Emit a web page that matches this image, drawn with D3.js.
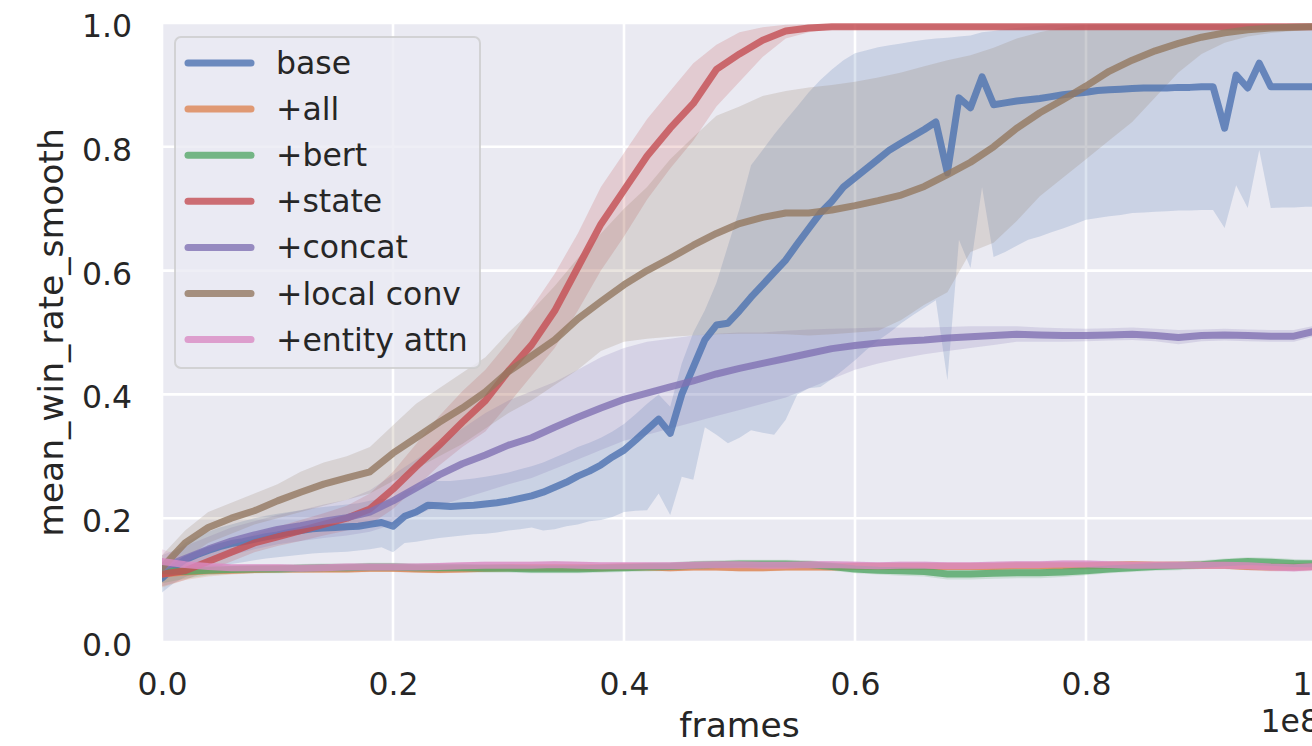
<!DOCTYPE html>
<html><head><meta charset="utf-8">
<script src="https://cdn.jsdelivr.net/npm/d3@7"></script>
<style>
body{margin:0;background:#fff}
svg{display:block}
text{font-family:"DejaVu Sans",sans-serif;fill:#262626}
</style>
</head><body><svg id="c" width="1312" height="746"></svg>
<script>
// x values in units of 1e8 frames
const framesCoarse = [0,0.02,0.04,0.06,0.08,0.1,0.12,0.14,0.16,0.18,0.2,0.22,0.24,0.26,0.28,0.3,0.32,0.34,0.36,0.38,0.4,0.42,0.44,0.46,0.48,0.5,0.52,0.54,0.56,0.58,0.6,0.62,0.64,0.66,0.68,0.7,0.72,0.74,0.76,0.78,0.8,0.82,0.84,0.86,0.88,0.9,0.92,0.94,0.96,0.98,1.0];
const framesFine = [0,0.01,0.02,0.03,0.04,0.05,0.06,0.07,0.08,0.09,0.1,0.11,0.12,0.13,0.14,0.15,0.16,0.17,0.18,0.19,0.2,0.21,0.22,0.23,0.24,0.25,0.26,0.27,0.28,0.29,0.3,0.31,0.32,0.33,0.34,0.35,0.36,0.37,0.38,0.39,0.4,0.41,0.42,0.43,0.44,0.45,0.46,0.47,0.48,0.49,0.5,0.51,0.52,0.53,0.54,0.55,0.56,0.57,0.58,0.59,0.6,0.61,0.62,0.63,0.64,0.65,0.66,0.67,0.68,0.69,0.7,0.71,0.72,0.73,0.74,0.75,0.76,0.77,0.78,0.79,0.8,0.81,0.82,0.83,0.84,0.85,0.86,0.87,0.88,0.89,0.9,0.91,0.92,0.93,0.94,0.95,0.96,0.97,0.98,0.99,1.0];

const seriesNames = ["base","+all","+bert","+state","+concat","+local conv","+entity attn"];
const seriesColors = ["#4C72B0","#DD8452","#55A868","#C44E52","#8172B3","#937860","#DA8BC3"];
const xTicks = [0,0.2,0.4,0.6,0.8,1.0];
const yTicks = [0,0.2,0.4,0.6,0.8,1.0];
const xLabel = "frames";
const yLabel = "mean_win_rate_smooth";
const xOffsetLabel = "1e8";

// base (fine grid)
const baseMean = [
.103,.12,.133,.141,.148,.154,.159,.162,.166,.170,
.173,.177,.180,.183,.184,.185,.186,.187,.19,.193,
.187,.203,.21,.221,.22,.219,.22,.221,.223,.225,
.228,.232,.236,.242,.25,.258,.268,.276,.286,.299,
.31,.326,.343,.36,.337,.40,.444,.488,.512,.515,
.535,.557,.577,.597,.617,.643,.668,.693,.712,.735,
.75,.765,.78,.795,.806,.817,.828,.84,.758,.879,
.863,.913,.868,.871,.874,.876,.878,.881,.884,.886,
.888,.891,.892,.893,.894,.895,.895,.895,.896,.896,
.897,.897,.83,.916,.895,.935,.897,.897,.897,.897,
.897];
const baseLo = [
.08,.095,.105,.112,.118,.122,.126,.129,.132,.135,
.137,.139,.141,.143,.144,.145,.146,.148,.15,.153,
.145,.16,.162,.165,.168,.17,.172,.174,.175,.177,
.18,.182,.185,.18,.182,.187,.19,.195,.197,.202,
.21,.212,.213,.24,.205,.267,.262,.347,.335,.321,
.33,.342,.338,.335,.359,.40,.41,.412,.425,.44,
.455,.472,.487,.50,.515,.528,.54,.552,.423,.65,
.604,.735,.622,.63,.64,.65,.655,.662,.668,.675,
.682,.685,.688,.69,.693,.694,.695,.696,.697,.697,
.698,.698,.669,.738,.701,.795,.701,.702,.702,.703,
.703];
const baseHi = [
.125,.145,.16,.17,.178,.185,.19,.195,.2,.204,
.207,.21,.213,.216,.218,.22,.222,.224,.228,.232,
.228,.243,.25,.26,.26,.26,.262,.264,.267,.27,
.274,.279,.284,.29,.298,.306,.315,.322,.33,.34,
.352,.368,.385,.40,.38,.45,.50,.536,.58,.64,
.70,.77,.795,.82,.843,.865,.888,.908,.925,.94,
.951,.956,.961,.964,.967,.97,.973,.975,.976,.978,
.98,.985,.987,.99,.992,.994,.995,.997,.997,.997,
.997,.997,.997,.997,.997,.997,.997,.997,.997,.997,
.997,.997,.997,.997,.997,.997,.997,.997,.997,.997,
.997];

// +all
const allMean = [.11,.113,.115,.116,.117,.118,.118,.118,.118,.119,.119,.118,.117,.118,.119,.12,.12,.12,.12,.12,.121,.121,.12,.121,.121,.12,.12,.121,.121,.121,.122,.122,.122,.122,.122,.122,.122,.123,.123,.123,.123,.124,.125,.124,.124,.124,.124,.122,.121,.121,.122];
const allLo = [.088,.1,.106,.109,.111,.112,.112,.112,.112,.113,.113,.112,.111,.112,.113,.114,.114,.114,.114,.114,.115,.115,.114,.115,.115,.114,.114,.115,.115,.115,.116,.116,.116,.116,.116,.116,.116,.117,.117,.117,.117,.118,.119,.118,.118,.118,.118,.116,.115,.115,.116];
const allHi = [.135,.128,.124,.123,.123,.124,.124,.124,.124,.125,.125,.124,.123,.124,.125,.126,.126,.126,.126,.126,.127,.127,.126,.127,.127,.126,.126,.127,.127,.127,.128,.128,.128,.128,.128,.128,.128,.129,.129,.129,.129,.13,.131,.13,.13,.13,.13,.128,.127,.127,.128];

// +bert
const bertMean = [.115,.114,.116,.117,.118,.118,.119,.12,.12,.121,.121,.12,.12,.12,.119,.119,.118,.118,.118,.119,.12,.121,.122,.124,.125,.126,.126,.126,.125,.122,.118,.116,.115,.114,.11,.11,.111,.112,.112,.113,.115,.118,.12,.122,.123,.125,.128,.13,.129,.127,.126];
const bertLo = [.095,.102,.108,.11,.111,.111,.112,.113,.113,.114,.114,.113,.113,.113,.112,.112,.111,.111,.111,.112,.113,.114,.115,.117,.118,.119,.119,.119,.118,.115,.111,.109,.107,.106,.101,.101,.102,.103,.103,.105,.108,.111,.113,.115,.116,.118,.121,.123,.122,.12,.119];
const bertHi = [.135,.126,.124,.124,.125,.125,.126,.127,.127,.128,.128,.127,.127,.127,.126,.126,.125,.125,.125,.126,.127,.128,.129,.131,.132,.133,.133,.133,.132,.129,.125,.123,.122,.122,.118,.118,.119,.12,.12,.121,.122,.125,.127,.129,.13,.132,.135,.137,.136,.134,.133];

// +state
const stateMean = [.11,.115,.13,.145,.16,.17,.18,.19,.20,.215,.247,.283,.318,.355,.39,.438,.48,.535,.605,.675,.73,.785,.83,.87,.925,.95,.972,.987,.992,.994,.994,.994,.994,.994,.994,.994,.994,.994,.994,.994,.994,.994,.994,.994,.994,.994,.994,.994,.994,.994,.994];
const stateLo = [.09,.10,.115,.13,.145,.155,.163,.172,.18,.19,.215,.25,.285,.315,.34,.385,.43,.475,.535,.60,.655,.715,.765,.81,.865,.905,.945,.975,.985,.99,.99,.99,.99,.99,.99,.99,.99,.99,.99,.99,.99,.99,.99,.99,.99,.99,.99,.99,.99,.99,.99];
const stateHi = [.13,.13,.145,.16,.175,.186,.197,.208,.22,.24,.275,.32,.365,.405,.44,.485,.54,.595,.66,.735,.79,.845,.89,.935,.965,.985,.993,.997,.998,.998,.998,.998,.998,.998,.998,.998,.998,.998,.998,.998,.998,.998,.998,.998,.998,.998,.998,.998,.998,.998,.998];

// +concat
const concatMean = [.12,.135,.15,.163,.173,.182,.188,.195,.201,.21,.228,.249,.27,.288,.302,.318,.33,.347,.363,.378,.392,.402,.412,.422,.433,.442,.45,.458,.466,.474,.479,.483,.486,.488,.491,.493,.495,.497,.496,.495,.495,.496,.497,.495,.492,.495,.496,.495,.494,.494,.503];
const concatLo = [.10,.115,.13,.14,.15,.158,.163,.168,.172,.178,.19,.205,.22,.232,.243,.255,.265,.28,.295,.31,.325,.335,.345,.355,.365,.375,.385,.395,.41,.425,.44,.45,.458,.465,.47,.475,.48,.485,.485,.485,.486,.487,.488,.486,.481,.486,.487,.486,.485,.485,.495];
const concatHi = [.14,.155,.17,.185,.195,.205,.213,.222,.23,.245,.27,.295,.32,.345,.37,.39,.405,.42,.44,.46,.475,.485,.49,.495,.498,.50,.50,.503,.505,.506,.507,.508,.508,.508,.509,.51,.51,.51,.508,.507,.506,.507,.508,.506,.504,.505,.506,.505,.504,.504,.512];

// +local conv
const localConvMean = [.12,.16,.185,.20,.212,.228,.242,.255,.265,.275,.305,.33,.355,.378,.404,.437,.462,.488,.522,.55,.577,.60,.62,.641,.66,.676,.686,.693,.693,.698,.705,.713,.722,.736,.755,.775,.80,.83,.855,.876,.898,.922,.94,.955,.967,.977,.984,.989,.992,.993,.994];
const localConvLo = [.10,.135,.16,.175,.19,.20,.21,.22,.23,.24,.26,.28,.30,.32,.345,.37,.39,.415,.44,.47,.485,.49,.493,.495,.497,.498,.498,.497,.495,.497,.50,.503,.52,.545,.565,.63,.645,.68,.72,.75,.78,.81,.84,.88,.92,.95,.968,.978,.984,.987,.99];
const localConvHi = [.14,.18,.21,.225,.24,.255,.275,.29,.30,.315,.35,.385,.41,.435,.46,.50,.535,.575,.62,.66,.70,.735,.78,.816,.85,.865,.882,.89,.896,.90,.905,.912,.92,.93,.94,.948,.96,.975,.985,.993,.997,.998,.998,.998,.998,.998,.998,.998,.998,.998,.998];

// +entity attn
const entityMean = [.13,.125,.122,.12,.12,.12,.119,.12,.121,.121,.121,.121,.122,.123,.124,.124,.124,.125,.124,.123,.123,.123,.123,.124,.125,.125,.124,.124,.125,.125,.124,.123,.124,.124,.123,.123,.124,.125,.125,.126,.126,.125,.124,.124,.124,.124,.124,.123,.121,.12,.122];
const entityLo = [.11,.113,.114,.114,.114,.114,.113,.114,.115,.115,.115,.115,.116,.117,.118,.118,.118,.119,.118,.117,.117,.117,.117,.118,.119,.119,.118,.118,.119,.119,.118,.117,.118,.118,.117,.117,.118,.119,.119,.12,.12,.119,.118,.118,.118,.118,.118,.116,.114,.113,.115];
const entityHi = [.15,.137,.13,.126,.126,.126,.125,.126,.127,.127,.127,.127,.128,.129,.13,.13,.13,.131,.13,.129,.129,.129,.129,.13,.131,.131,.13,.13,.131,.131,.13,.129,.13,.13,.129,.129,.13,.131,.131,.132,.132,.131,.13,.13,.13,.13,.13,.13,.128,.127,.129];

const series = [
  {x: framesFine,   mean: baseMean,      lo: baseLo,      hi: baseHi},
  {x: framesCoarse, mean: allMean,       lo: allLo,       hi: allHi},
  {x: framesCoarse, mean: bertMean,      lo: bertLo,      hi: bertHi},
  {x: framesCoarse, mean: stateMean,     lo: stateLo,     hi: stateHi},
  {x: framesCoarse, mean: concatMean,    lo: concatLo,    hi: concatHi},
  {x: framesCoarse, mean: localConvMean, lo: localConvLo, hi: localConvHi},
  {x: framesCoarse, mean: entityMean,    lo: entityLo,    hi: entityHi}
].map((s,i)=>Object.assign(s,{name: seriesNames[i], color: seriesColors[i]}));

const L=162, R=1317, T=23, B=642;
const x = d3.scaleLinear().domain([0,1]).range([L,R]);
const y = d3.scaleLinear().domain([0,1]).range([B,T]);
const svg = d3.select("#c");

svg.append("defs").append("clipPath").attr("id","clip")
  .append("rect").attr("x",L).attr("y",T).attr("width",R-L).attr("height",B-T);

svg.append("rect").attr("x",L).attr("y",T).attr("width",R-L).attr("height",B-T).attr("fill","#EAEAF2");

const grid = svg.append("g").attr("clip-path","url(#clip)");
grid.selectAll("line.v").data(xTicks).join("line").attr("class","v")
  .attr("x1",d=>x(d)).attr("x2",d=>x(d)).attr("y1",T).attr("y2",B)
  .attr("stroke","#fff").attr("stroke-width",2.6);
grid.selectAll("line.h").data(yTicks).join("line").attr("class","h")
  .attr("y1",d=>y(d)).attr("y2",d=>y(d)).attr("x1",L).attr("x2",R)
  .attr("stroke","#fff").attr("stroke-width",2.6);

const plot = svg.append("g").attr("clip-path","url(#clip)");
series.forEach(s=>{
  const area = d3.area().x((d,i)=>x(s.x[i])).y0((d,i)=>y(s.lo[i])).y1((d,i)=>y(s.hi[i]));
  plot.append("path").datum(s.mean).attr("d",area)
    .attr("fill",s.color).attr("fill-opacity",0.2).attr("stroke","none");
});
series.forEach(s=>{
  const line = d3.line().x((d,i)=>x(s.x[i])).y(d=>y(d));
  plot.append("path").datum(s.mean).attr("d",line)
    .attr("fill","none").attr("stroke",s.color).attr("stroke-opacity",0.8)
    .attr("stroke-width",7).attr("stroke-linejoin","round").attr("stroke-linecap","round");
});

// axes
const xAxis = svg.append("g").attr("transform",`translate(0,${B})`)
  .call(d3.axisBottom(x).tickValues(xTicks).tickFormat(d3.format(".1f")).tickSize(0).tickPadding(30.6));
xAxis.select(".domain").remove();
xAxis.selectAll("text").attr("font-size",31.5);

const yAxis = svg.append("g").attr("transform",`translate(${L},0)`)
  .call(d3.axisLeft(y).tickValues(yTicks).tickFormat(d3.format(".1f")).tickSize(0).tickPadding(30));
yAxis.select(".domain").remove();
yAxis.selectAll("text").attr("font-size",31.5).attr("dy","0.43em");

svg.append("text").attr("x",(L+R)/2).attr("y",737).attr("text-anchor","middle")
  .attr("font-size",34.5).text(xLabel);
svg.append("text").attr("transform",`translate(63,${(T+B)/2}) rotate(-90)`)
  .attr("text-anchor","middle").attr("font-size",34.5).text(yLabel);
svg.append("text").attr("x",1320).attr("y",732).attr("text-anchor","end")
  .attr("font-size",31.5).text(xOffsetLabel);

// legend
const lg = svg.append("g");
lg.append("rect").attr("x",175).attr("y",37).attr("width",305).attr("height",331).attr("rx",6)
  .attr("fill","#EAEAF2").attr("fill-opacity",0.8)
  .attr("stroke","#CCCCCC").attr("stroke-opacity",0.8).attr("stroke-width",2);
series.forEach((s,i)=>{
  const cy = 63 + i*46.1;
  lg.append("line").attr("x1",188).attr("x2",251).attr("y1",cy).attr("y2",cy)
    .attr("stroke",s.color).attr("stroke-opacity",0.8).attr("stroke-width",7).attr("stroke-linecap","round");
  lg.append("text").attr("x",276).attr("y",cy+11).attr("font-size",31.5).text(s.name);
});
</script>
</body></html>
